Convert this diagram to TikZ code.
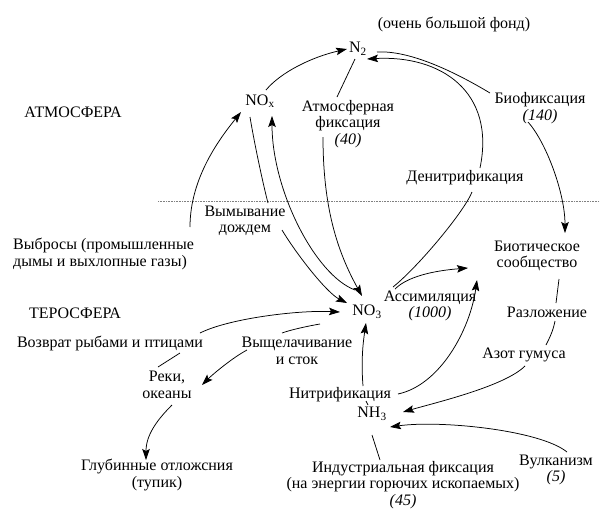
\documentclass[tikz,border=0pt]{standalone}
\usepackage{fontspec}
\setmainfont{Liberation Serif}
\usetikzlibrary{arrows.meta}
\begin{document}
\begin{tikzpicture}[x=1pt,y=-1pt,
  lbl/.style={inner sep=1pt, align=center, font=\fontsize{16}{16.5}\selectfont},
  conn/.style={line width=0.75pt},
  arr/.style={conn, -{Stealth[length=11pt,width=7.5pt,inset=2pt]}}]
\useasboundingbox[fill=white] (0,0) rectangle (600,517);
% nodes
\node[lbl] (fond) at (454,24) {(очень большой фонд)};
\node[lbl] (n2) at (358,49) {N\textsubscript{2}};
\node[lbl] (atmo) at (73,112) {АТМОСФЕРА};
\node[lbl] (nox) at (260,101) {NO\textsubscript{x}};
\node[lbl] (atm) at (348,124) {Атмосферная\\фиксация\\\textit{(40)}};
\node[lbl] (bio) at (540,108) {Биофиксация\\\textit{(140)}};
\node[lbl] (denit) at (465,178) {Денитрификация};
\node[lbl] (rain) at (245,221) {Вымывание\\дождем};
\node[lbl, anchor=west, align=left] (emiss) at (12,254) {Выбросы (промышленные\\дымы и выхлопные газы)};
\node[lbl] (tero) at (75,313) {ТЕРОСФЕРА};
\node[lbl] (ret) at (110,343) {Возврат рыбами и птицами};
\node[lbl] (rivers) at (167,385) {Реки,\\океаны};
\node[lbl] (leach) at (297,351) {Выщелачивание\\и сток};
\node[lbl] (no3) at (367,312) {NO\textsubscript{3}};
\node[lbl] (assim) at (430,306) {Ассимиляция\\\textit{(1000)}};
\node[lbl] (biotic) at (537,256) {Биотическое\\сообщество};
\node[lbl] (razl) at (547,312) {Разложение};
\node[lbl] (azot) at (524,355) {Азот гумуса};
\node[lbl] (nitr) at (340,395) {Нитрификация};
\node[lbl] (nh3) at (372,414) {NH\textsubscript{3}};
\node[lbl] (indust) at (403,485) {Индустриальная фиксация\\(на энергии горючих ископаемых)\\\textit{(45)}};
\node[lbl] (vulk) at (556,470) {Вулканизм\\\textit{(5)}};
\node[lbl] (deep) at (157,475) {Глубинные отложсния\\(тупик)};
% boundary line
\coordinate (hl) at (158,201);
\coordinate (hr) at (600,201);
\draw[gray, line width=0.6pt, dash pattern=on 0.8pt off 0.8pt] (hl) -- (hr);
% connectors
\draw[arr] ([shift={(6,-11)}]nox.center) .. controls +(15,-18) and +(-35,8) .. ([shift={(-11,0)}]n2.center);
\draw[conn] ([shift={(-3,10)}]n2.center) -- ([shift={(-11,-27)}]atm.center);
\draw[arr] ([shift={(-25,13)}]atm.center) .. controls +(0,70) and +(-25,-45) .. ([shift={(-5,-16)}]no3.center);
\draw[conn] ([shift={(19,3)}]n2.center) .. controls +(35,-2) and +(-30,-18) .. ([shift={(-50,-15)}]bio.center);
\draw[arr] ([shift={(-12,14)}]bio.center) .. controls +(18,20) and +(0,-40) .. ([shift={(28,-23)}]biotic.center);
\draw[conn] ([shift={(26,-25)}]no3.center) .. controls +(25,-20) and +(-8,20) .. ([shift={(7,14)}]denit.center);
\draw[arr] ([shift={(15,-10)}]denit.center) .. controls +(16,-77) and +(73,-4) .. ([shift={(9,10)}]n2.center);
\draw[arr] ([shift={(28,-23)}]no3.center) .. controls +(15,-15) and +(-25,2) .. ([shift={(-69,12)}]biotic.center);
\draw[conn] ([shift={(-10,16)}]nox.center) .. controls +(5,30) and +(-4,-15) .. ([shift={(23,-18)}]rain.center);
\draw[arr] ([shift={(37,9)}]rain.center) .. controls +(15,25) and +(-20,-10) .. ([shift={(-20,-9)}]no3.center);
\draw[arr] ([shift={(-12,-22)}]no3.center) .. controls +(-40,-15) and +(0,74) .. ([shift={(12,15)}]nox.center);
\draw[arr] ([shift={(178,-27)}]emiss.west) .. controls +(0,-50) and +(-20,25) .. ([shift={(-19,11)}]nox.center);
\draw[conn] ([shift={(-9,-18)}]rivers.center) -- ([shift={(70,10)}]ret.center);
\draw[arr] ([shift={(90,-10)}]ret.center) .. controls +(30,-15) and +(-40,-2) .. ([shift={(-27,0)}]no3.center);
\draw[conn] ([shift={(-47,12)}]no3.center) .. controls +(-12,2) and +(8,-3) .. ([shift={(-15,-18)}]leach.center);
\draw[arr] ([shift={(-50,-1)}]leach.center) .. controls +(-15,8) and +(10,-10) .. ([shift={(35,0)}]rivers.center);
\draw[arr] ([shift={(5,20)}]rivers.center) .. controls +(-15,15) and +(0,-25) .. ([shift={(-11,-15)}]deep.center);
\draw[conn] ([shift={(-4,-9)}]nh3.center) -- ([shift={(26,6)}]nitr.center);
\draw[arr] ([shift={(23,-9)}]nitr.center) .. controls +(-2,-25) and +(-3,20) .. ([shift={(-1,11)}]no3.center);
\draw[arr] ([shift={(26,-20)}]nh3.center) .. controls +(42,-9) and +(-7,50) .. ([shift={(-60,24)}]biotic.center);
\draw[conn] ([shift={(22,23)}]biotic.center) -- ([shift={(9,-9)}]razl.center);
\draw[conn] ([shift={(8,9)}]razl.center) .. controls +(-2,10) and +(4,-8) .. ([shift={(22,-10)}]azot.center);
\draw[arr] ([shift={(1,11)}]azot.center) .. controls +(-20,20) and +(35,-10) .. ([shift={(31,-2)}]nh3.center);
\draw[arr] ([shift={(11,-18)}]vulk.center) .. controls +(-27,-22) and +(50,-7) .. ([shift={(18,13)}]nh3.center);
\draw[conn] ([shift={(0,21)}]nh3.center) -- ([shift={(-23,-25)}]indust.center);
\end{tikzpicture}
\end{document}
